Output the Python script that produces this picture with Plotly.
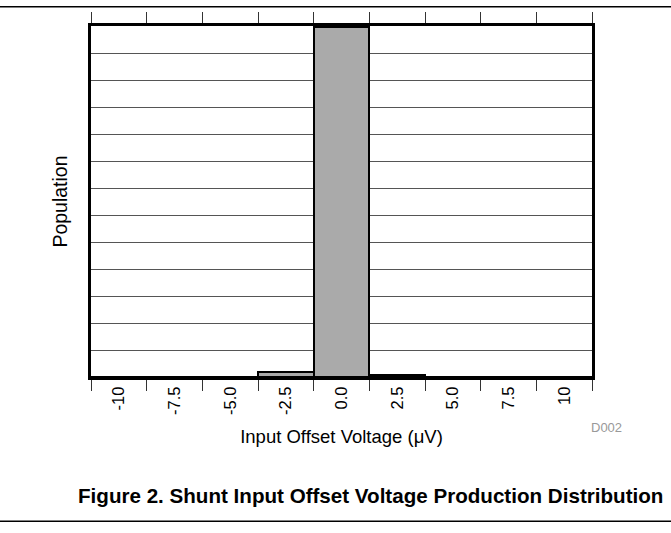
import plotly.graph_objects as go

categories = ["-10", "-7.5", "-5.0", "-2.5", "0.0", "2.5", "5.0", "7.5", "10"]
population = [0, 0, 0, 0.18, 12.98, 0.06, 0, 0, 0]

W, H = 671, 533
L, R, T, B = 91, 79, 23, 156
pw, ph = W - L - R, H - T - B

def px_x(x):
    return (x - L) / pw

def px_y(y):
    return (H - B - y) / ph

fig = go.Figure()
fig.add_trace(go.Bar(
    x=categories, y=population,
    marker=dict(color="#aaaaaa", line=dict(color="black", width=2)),
))

font = "Liberation Sans, Arial, sans-serif"
fig.update_layout(
    width=W, height=H,
    margin=dict(l=L, r=R, t=T, b=B, pad=0),
    paper_bgcolor="white", plot_bgcolor="white",
    bargap=0, showlegend=False,
    font=dict(family=font, size=16, color="black"),
    xaxis=dict(
        type="category", tickson="boundaries", ticks="outside", ticklen=11,
        tickcolor="#333", tickwidth=1, tickangle=-90,
        showline=True, linecolor="black", linewidth=3, mirror="ticks",
        showgrid=False, tickfont=dict(size=16.5),
        title=dict(text="Input Offset Voltage (\u03bcV)", font=dict(size=18.5), standoff=17),
    ),
    yaxis=dict(
        range=[0, 13], dtick=1, showticklabels=False, ticks="",
        showline=True, linecolor="black", linewidth=3, mirror=True,
        showgrid=True, gridcolor="#555", gridwidth=1, zeroline=False,
        title=dict(text="Population", font=dict(size=19.5), standoff=16),
    ),
)

for y in (3.5, 522.5):
    fig.add_shape(type="line", xref="paper", yref="paper",
                  x0=px_x(0), x1=px_x(W), y0=px_y(y), y1=px_y(y),
                  line=dict(color="black", width=1.5))

fig.add_annotation(text="D002", xref="paper", yref="paper", x=px_x(606), y=px_y(428),
                   xanchor="center", yanchor="middle",
                   showarrow=False, font=dict(size=13, color="#999999"))
fig.add_annotation(text="<b>Figure 2. Shunt Input Offset Voltage Production Distribution</b>",
                   xref="paper", yref="paper", x=px_x(665), y=px_y(497),
                   xanchor="right", yanchor="middle",
                   showarrow=False, font=dict(size=20.6, color="black"))

fig.write_html("out.html", config={"displayModeBar": False},
               post_script="document.body.style.margin='0';document.body.style.overflow='hidden';")
